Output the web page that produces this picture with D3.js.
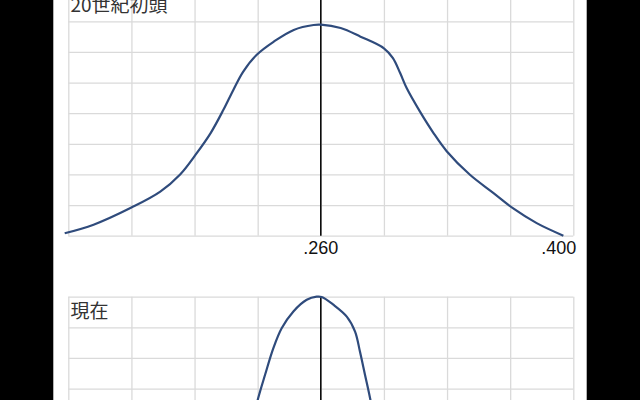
<!DOCTYPE html>
<html>
<head>
<meta charset="utf-8">
<script src="https://cdn.jsdelivr.net/npm/d3@7"></script>
<style>
  html, body { margin: 0; padding: 0; background: #000; overflow: hidden; }
  #chart { width: 640px; height: 400px; }
</style>
</head>
<body>
<div id="chart"></div>
<script>
/* batting average distributions, early 20th century vs now */

const panelTitles = ["20世紀初頭", "現在"];
const tickValues = [0.26, 0.40];
const tickLabels = [".260", ".400"];

// early 1900s curve (density)
const earlyAvg = [0.118, 0.134, 0.155, 0.171, 0.182, 0.191, 0.199, 0.206, 0.2115, 0.217, 0.2245,
    0.234, 0.245, 0.256, 0.26, 0.271, 0.282, 0.295, 0.300, 0.304, 0.3076, 0.315, 0.3224,
    0.3298, 0.3427, 0.3556, 0.3667, 0.3797, 0.3945];
const earlyDensity = [0.08, 0.36, 0.92, 1.44, 2.00, 2.68, 3.36, 4.11, 4.76, 5.36, 5.91,
    6.34, 6.72, 6.88, 6.89, 6.78, 6.50, 6.12, 5.80, 5.31, 4.82, 4.05, 3.36,
    2.76, 1.99, 1.40, 0.89, 0.41, 0.0];

// current curve (tails below the window are estimated)
const nowAvg = [0.185, 0.196, 0.206, 0.214, 0.220, 0.2253, 0.2291, 0.2337, 0.2383, 0.2448, 0.2522,
    0.2577, 0.2605, 0.2669, 0.2744, 0.279, 0.2817, 0.2845, 0.2873, 0.291, 0.296, 0.303, 0.312, 0.323];
const nowDensity = [0.05, 0.3, 0.9, 2.0, 3.4, 4.69, 5.45, 6.32, 6.97, 7.52, 7.90,
    8.0, 7.99, 7.74, 7.35, 6.86, 6.21, 5.45, 4.69, 3.5, 2.1, 1.0, 0.35, 0.05];

const width = 640,
    height = 400,
    margin = ({ left: 68.3, right: 66.7 }),
    panelHeight = 245,
    panelTops = [-9.3, 296.7];

let svg = d3.select("#chart")
    .append("svg")
    .attr("width", width)
    .attr("height", height);

// white page in the middle, black on both sides
svg.append("rect")
    .attr("x", 53.3)
    .attr("y", 0)
    .attr("width", 533.4)
    .attr("height", height)
    .attr("fill", "#fff");

let x = d3.scaleLinear()
    .domain([0.12, 0.40])
    .range([margin.left, width - margin.right]);

const gridX = d3.range(0.12, 0.4001, 0.035);

let line = d3.line().curve(d3.curveCatmullRom.alpha(0.5));

const series = [
    { avg: earlyAvg, dens: earlyDensity },
    { avg: nowAvg, dens: nowDensity }
];

panelTitles.forEach((title, i) => {
    const top = panelTops[i];
    let y = d3.scaleLinear()
        .domain([0, 8])
        .range([top + panelHeight, top]);

    let g = svg.append("g").attr("class", "panel");

    // grid
    g.append("g")
        .attr("transform", `translate(0,${top + panelHeight})`)
        .call(d3.axisBottom(x).tickValues(gridX).tickSize(-panelHeight).tickFormat(""))
        .call(a => a.select(".domain").remove())
        .call(a => a.selectAll("line").attr("stroke", "#dadada").attr("stroke-width", 1.3));

    g.append("g")
        .attr("transform", `translate(${margin.left},0)`)
        .call(d3.axisLeft(y).ticks(8).tickSize(-(width - margin.left - margin.right)).tickFormat(""))
        .call(a => a.select(".domain").remove())
        .call(a => a.selectAll("line").attr("stroke", "#dadada").attr("stroke-width", 1.3));

    // .260 marker
    g.append("line")
        .attr("x1", x(0.26)).attr("x2", x(0.26))
        .attr("y1", y(8)).attr("y2", y(0))
        .attr("stroke", "#000")
        .attr("stroke-width", 1.5);

    const s = series[i];
    g.append("path")
        .datum(s.avg.map((a, k) => [x(a), y(s.dens[k])]))
        .attr("fill", "none")
        .attr("stroke", "#2f4b7c")
        .attr("stroke-width", 2.2)
        .attr("d", line);

    g.append("text")
        .attr("x", 70.5)
        .attr("y", top + 21.5)
        .text(title)
        .style("font-family", "'Noto Sans CJK JP', sans-serif")
        .style("font-size", "19px")
        .style("fill", "#333");

    // the lower panel's axis labels fall outside the window
    if (i == 0) {
        g.selectAll(".tick-label")
            .data(tickValues)
            .join("text")
            .attr("class", "tick-label")
            .attr("x", (d, k) => k == tickValues.length - 1 ? x(d) + 3 : x(d))
            .attr("y", top + panelHeight + 18)
            .attr("text-anchor", (d, k) => k == tickValues.length - 1 ? "end" : "middle")
            .text((d, k) => tickLabels[k])
            .style("font-family", "'Liberation Sans', Arial, sans-serif")
            .style("font-size", "18px")
            .style("fill", "#111");
    }
});
</script>
</body>
</html>
